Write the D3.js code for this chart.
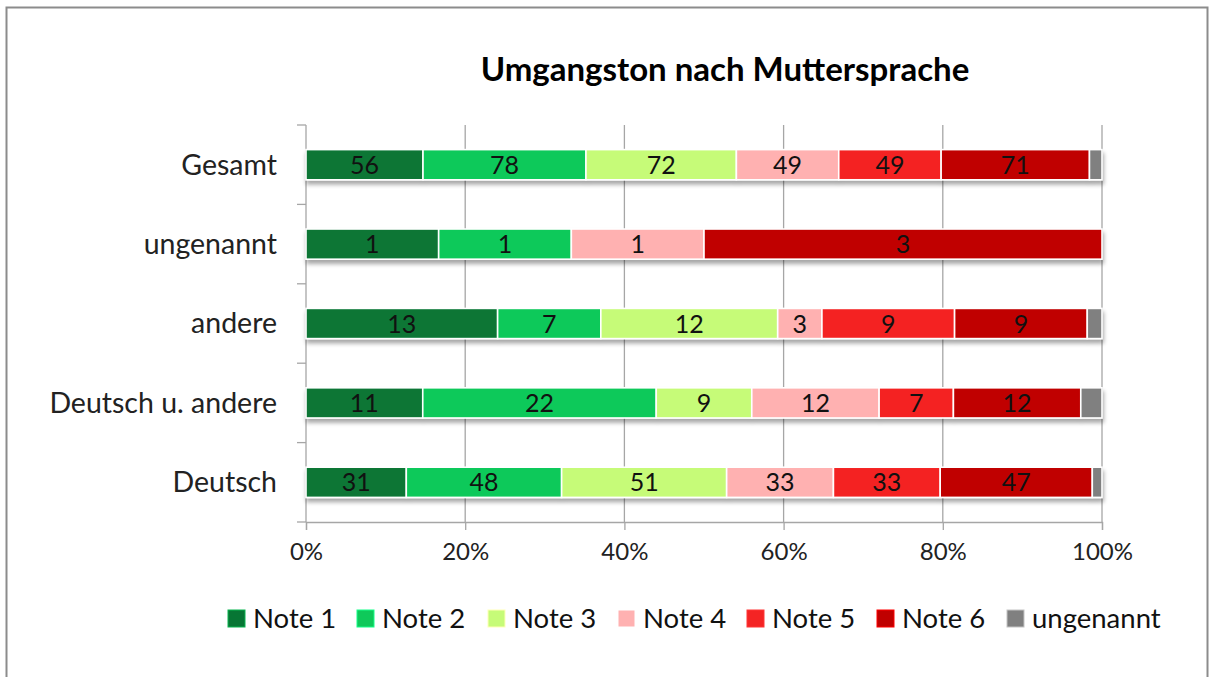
<!DOCTYPE html>
<html><head><meta charset="utf-8">
<script src="https://cdn.jsdelivr.net/npm/d3@7"></script>
<style>
html,body{margin:0;padding:0;background:#fff;}
svg{display:block;font-family:Lato, "Open Sans", sans-serif;}
</style></head>
<body>
<svg id="chart" width="1211" height="677"></svg>
<script>
const categories = ["Gesamt", "ungenannt", "andere", "Deutsch u. andere", "Deutsch"];
const seriesNames = ["Note 1", "Note 2", "Note 3", "Note 4", "Note 5", "Note 6", "ungenannt"];
const note1 = [56, 1, 13, 11, 31];
const note2 = [78, 1, 7, 22, 48];
const note3 = [72, 0, 12, 9, 51];
const note4 = [49, 1, 3, 12, 33];
const note5 = [49, 0, 9, 7, 33];
const note6 = [71, 3, 9, 12, 47];
const unknown = [6, 0, 1, 2, 3];
const colors = ["#077634", "#0fc95a", "#c6fb78", "#ffb1b1", "#f42424", "#c00000", "#808080"];
const xTicks = [0, 0.2, 0.4, 0.6, 0.8, 1.0];
const title = "Umgangston nach Muttersprache";

const seriesValues = [note1, note2, note3, note4, note5, note6, unknown];
const rows = categories.map((c, i) => {
  const r = {cat: c};
  seriesNames.forEach((s, j) => r[s] = seriesValues[j][i]);
  return r;
});
const totals = rows.map(r => d3.sum(seriesNames, s => r[s]));
const norm = rows.map((r, i) => {
  const o = {cat: r.cat};
  seriesNames.forEach(s => o[s] = r[s] / totals[i]);
  return o;
});
const stacked = d3.stack().keys(seriesNames)(norm);

const svg = d3.select("#chart");
svg.append("rect").attr("x", 6.5).attr("y", 7.5).attr("width", 1201).attr("height", 680)
  .attr("fill", "#fff").attr("stroke", "#8c8c8c").attr("stroke-width", 2);

const defs = svg.append("defs");
const f = defs.append("filter").attr("id", "sh").attr("x", "-5%").attr("y", "-20%").attr("width", "110%").attr("height", "160%");
f.append("feGaussianBlur").attr("in", "SourceAlpha").attr("stdDeviation", 2.2);
f.append("feOffset").attr("dx", 1).attr("dy", 4).attr("result", "ob");
f.append("feComponentTransfer").append("feFuncA").attr("type", "linear").attr("slope", 0.35);
const fm = f.append("feMerge");
fm.append("feMergeNode");
fm.append("feMergeNode").attr("in", "SourceGraphic");

const m = {left: 306, right: 1102, top: 125, bottom: 522};
const x = d3.scaleLinear().domain([0, 1]).range([m.left, m.right]);
const y = d3.scaleBand().domain(categories).range([m.top, m.bottom]).paddingInner(0.62).paddingOuter(0.31);

svg.append("text").attr("x", 725).attr("y", 81).attr("text-anchor", "middle")
  .attr("font-size", 33).attr("font-weight", "bold").attr("fill", "#000").text(title);

svg.append("g").selectAll("line").data(xTicks.slice(1)).join("line")
  .attr("x1", d => x(d)).attr("x2", d => x(d)).attr("y1", m.top).attr("y2", m.bottom)
  .attr("stroke", "#a6a6a6").attr("stroke-width", 1.3);

const xAxis = svg.append("g").attr("transform", `translate(0,${m.bottom})`)
  .call(d3.axisBottom(x).tickValues(xTicks).tickFormat(d3.format(".0%")).tickSize(8).tickPadding(13));
xAxis.select(".domain").attr("stroke", "#a6a6a6").attr("stroke-width", 1.3);
xAxis.selectAll(".tick line").attr("stroke", "#a6a6a6").attr("stroke-width", 1.3);
xAxis.selectAll("text").attr("font-size", 24).attr("fill", "#222").attr("font-family", "Lato, sans-serif");

const yAxis = svg.append("g").attr("transform", `translate(${m.left},0)`);
yAxis.append("line").attr("x1", 0).attr("x2", 0).attr("y1", m.top).attr("y2", m.bottom)
  .attr("stroke", "#a6a6a6").attr("stroke-width", 1.3);
const bounds = d3.range(categories.length + 1).map(i => m.top + i * (m.bottom - m.top) / categories.length);
yAxis.selectAll("line.t").data(bounds).join("line").attr("class", "t")
  .attr("x1", -9).attr("x2", 0).attr("y1", d => d).attr("y2", d => d)
  .attr("stroke", "#a6a6a6").attr("stroke-width", 1.3);
yAxis.selectAll("text").data(categories).join("text")
  .attr("x", -29).attr("y", d => y(d) + y.bandwidth() / 2).attr("dy", "0.35em")
  .attr("text-anchor", "end").attr("font-size", 28.5).attr("fill", "#222").text(d => d);

const barG = svg.append("g");
categories.forEach((c, i) => {
  const g = barG.append("g").attr("filter", "url(#sh)");
  stacked.forEach((s, j) => {
    const d = s[i];
    if (d[1] - d[0] <= 0) return;
    g.append("rect").attr("x", x(d[0])).attr("y", y(c)).attr("width", x(d[1]) - x(d[0])).attr("height", y.bandwidth())
      .attr("fill", colors[j]).attr("stroke", "#fff").attr("stroke-width", 1.6);
  });
});
categories.forEach((c, i) => {
  stacked.forEach((s, j) => {
    const d = s[i];
    const v = seriesValues[j][i];
    if (v <= 0 || j === 6) return;
    barG.append("text").attr("x", (x(d[0]) + x(d[1])) / 2).attr("y", y(c) + y.bandwidth() / 2).attr("dy", "0.36em")
      .attr("text-anchor", "middle").attr("font-size", 25).attr("fill", "#111").text(v);
  });
});

const legendX = [228, 357, 488, 618, 747, 877, 1007];
const lg = svg.append("g");
seriesNames.forEach((s, j) => {
  lg.append("rect").attr("x", legendX[j]).attr("y", 610).attr("width", 17).attr("height", 17)
    .attr("fill", colors[j]).attr("stroke", d3.color(colors[j]).brighter(1.2)).attr("stroke-width", 1);
  lg.append("text").attr("x", legendX[j] + 25).attr("y", 618.5).attr("dy", "0.36em")
    .attr("font-size", 27.5).attr("fill", "#111").text(s);
});
</script>
</body></html>
